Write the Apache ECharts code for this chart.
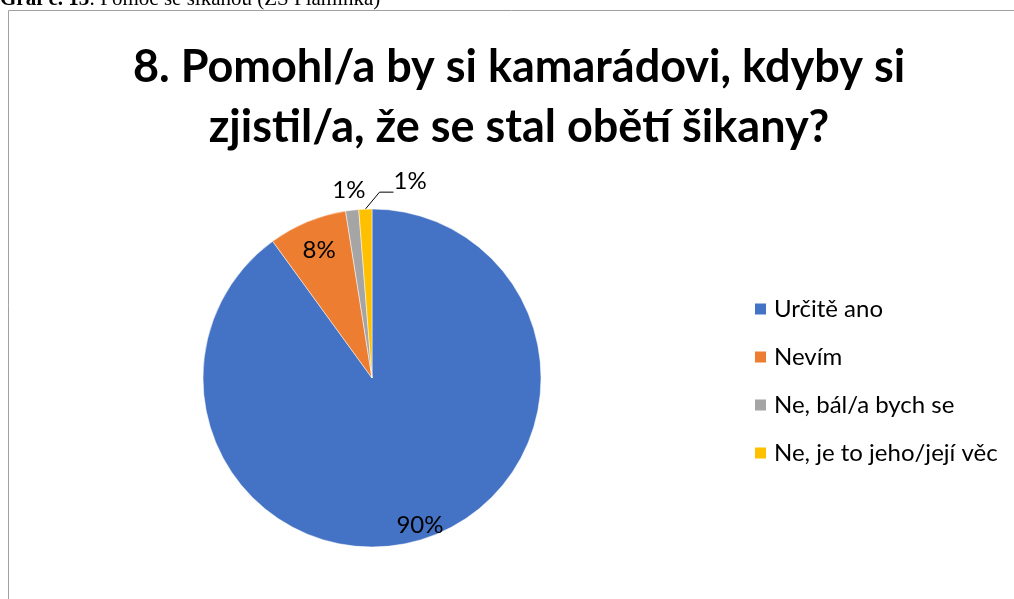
<!DOCTYPE html>
<html>
<head>
    <meta charset="utf-8">
    <title>Graf 13</title>
    <script src="https://cdn.jsdelivr.net/npm/echarts@6/dist/echarts.min.js"></script>
    <style type="text/css">
        html, body {
            height: 100%;
            margin: 0;
            padding: 0;
            background: #fff;
        }
        #main {
            width: 1014px;
            height: 599px;
        }
    </style>
</head>
<body>
<div id="main"></div>
<script type="text/javascript">
    // data
    var categories = ['Určitě ano', 'Nevím', 'Ne, bál/a bych se', 'Ne, je to jeho/její věc'];
    var values = [72, 6, 1, 1];
    var colors = ['#4472c4', '#ed7d31', '#a5a5a5', '#ffc000'];
    var titleText = '8. Pomohl/a by si kamarádovi, kdyby si\nzjistil/a, že se stal obětí šikany?';
    var captionText = 'Pomoc se šikanou (ZŠ Plamínka)';

    var font = 'Lato';
    var R = 169;
    var center = [372, 378];

    var total = values.reduce(function (a, b) { return a + b; }, 0);
    function pct(v) {
        return Math.round(v / total * 100) + '%';
    }

    var myChart = echarts.init(document.getElementById('main'));

    // main pie, only the small slices get outside labels
    var mainData = categories.map(function (c, i) {
        var item = {name: c, value: values[i], itemStyle: {color: colors[i]}};
        if (i < 2) {
            item.label = {show: false};
            item.labelLine = {show: false};
        } else if (i === 2) {
            item.labelLine = {show: false, length: 14, length2: 0};
        } else {
            // empty second line pulls the guide line down to the foot of the text
            item.label = {
                lineHeight: 22,
                formatter: function (p) { return pct(p.value) + '\n '; }
            };
            item.labelLine = {show: true, length: 18, length2: 14};
        }
        return item;
    });

    // transparent rings that only carry the inside labels
    function ringData(idx) {
        return categories.map(function (c, i) {
            return {
                name: c, value: values[i],
                label: {show: i === idx}
            };
        });
    }

    var option = {
        backgroundColor: '#fff',
        animation: false,
        graphic: [
            {
                type: 'rect',
                shape: {x: 8.5, y: 10.5, width: 1020, height: 600},
                style: {fill: 'none', stroke: '#a0a0a0', lineWidth: 1},
                silent: true
            },
            {
                type: 'text',
                left: 0, top: -11,
                style: {
                    rich: {
                        b: {font: 'bold 21px "Liberation Serif"', fill: '#000'},
                        n: {font: '21px "Liberation Serif"', fill: '#000'}
                    },
                    text: '{b|Graf č. 13}{n|: ' + captionText + '}'
                }
            },
            {
                // chart title, centred on the framed area
                type: 'text',
                x: 519,
                y: 37,
                style: {
                    text: titleText,
                    align: 'center',
                    verticalAlign: 'top',
                    font: 'bold 45px "Lato"',
                    lineHeight: 60,
                    fill: '#000'
                }
            }
        ],
        legend: {
            orient: 'vertical',
            left: 748,
            top: 292,
            itemWidth: 13,
            itemHeight: 13,
            itemGap: 24,
            icon: 'rect',
            textStyle: {fontFamily: font, fontSize: 24, color: '#000', padding: [0, 0, 0, 2]},
            data: categories
        },
        series: [
            {
                name: 'pomoc',
                type: 'pie',
                radius: [0, R],
                center: center,
                startAngle: 90,
                clockwise: true,
                avoidLabelOverlap: false,
                itemStyle: {borderColor: '#fff', borderWidth: 0.5},
                label: {
                    show: true,
                    position: 'outside',
                    formatter: function (p) { return pct(p.value); },
                    fontFamily: font,
                    fontSize: 24,
                    color: '#000'
                },
                labelLine: {lineStyle: {color: '#000', width: 1}},
                labelLayout: function (p) {
                    var r = p.labelRect;
                    if (p.dataIndex === 2) {
                        return {dx: 20, dy: -6};
                    }
                    if (p.dataIndex === 3) {
                        // move the label to the right of the slice, the guide line follows
                        return {
                            x: r.x + 81,
                            y: r.y + r.height / 2 + 1,
                            align: 'left',
                            verticalAlign: 'middle'
                        };
                    }
                },
                data: mainData
            },
            {
                type: 'pie',
                radius: [R * 0.8, R],
                center: center,
                startAngle: 90,
                silent: true,
                legendHoverLink: false,
                itemStyle: {color: 'rgba(0,0,0,0)'},
                label: {
                    position: 'inside',
                    formatter: function (p) { return pct(p.value); },
                    fontFamily: font, fontSize: 24, color: '#000'
                },
                labelLine: {show: false},
                data: ringData(0)
            },
            {
                type: 'pie',
                radius: [R * 0.6, R],
                center: center,
                startAngle: 90,
                silent: true,
                legendHoverLink: false,
                itemStyle: {color: 'rgba(0,0,0,0)'},
                label: {
                    position: 'inside',
                    formatter: function (p) { return pct(p.value); },
                    fontFamily: font, fontSize: 24, color: '#000'
                },
                labelLine: {show: false},
                data: ringData(1)
            }
        ]
    };
    myChart.setOption(option);
</script>
</body>
</html>
